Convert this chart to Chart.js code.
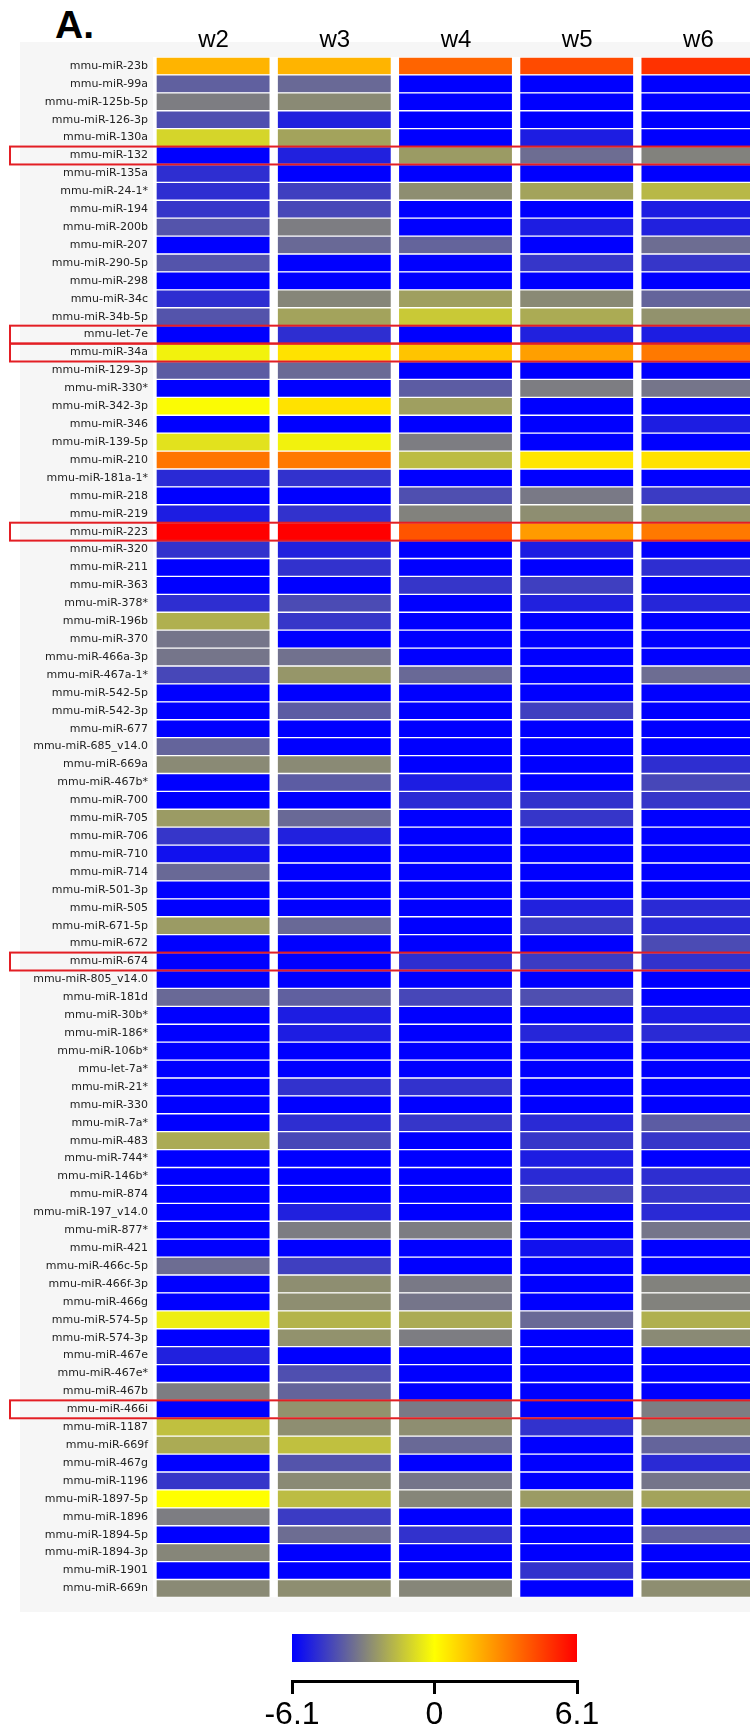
<!DOCTYPE html>
<html>
<head>
<meta charset="utf-8">
<script src="https://cdn.jsdelivr.net/npm/chart.js@4.4.1/dist/chart.umd.min.js"></script>
<style>
  html, body { margin: 0; padding: 0; width: 750px; height: 1729px; overflow: hidden; background: #fff; }
  #panel { position: absolute; left: 20px; top: 42px; width: 730px; height: 1570px; background: #f6f6f6; }
  #tag { position: absolute; left: 55px; top: 5px; font: bold 39px/39px "Liberation Sans", Arial, sans-serif; color: #000; }
  #heat { position: absolute; left: 0; top: 0; }
  #scale { position: absolute; left: 232px; top: 1625px; }
</style>
</head>
<body>
<div id="panel"></div>
<div id="tag">A.</div>
<canvas id="heat" width="759" height="1609"></canvas>
<canvas id="scale" width="405" height="104"></canvas>
<script>
const weeks = ['w2', 'w3', 'w4', 'w5', 'w6'];

const mirs = [
  'mmu-miR-23b', 'mmu-miR-99a', 'mmu-miR-125b-5p', 'mmu-miR-126-3p', 'mmu-miR-130a',
  'mmu-miR-132', 'mmu-miR-135a', 'mmu-miR-24-1*', 'mmu-miR-194', 'mmu-miR-200b',
  'mmu-miR-207', 'mmu-miR-290-5p', 'mmu-miR-298', 'mmu-miR-34c', 'mmu-miR-34b-5p',
  'mmu-let-7e', 'mmu-miR-34a', 'mmu-miR-129-3p', 'mmu-miR-330*', 'mmu-miR-342-3p',
  'mmu-miR-346', 'mmu-miR-139-5p', 'mmu-miR-210', 'mmu-miR-181a-1*', 'mmu-miR-218',
  'mmu-miR-219', 'mmu-miR-223', 'mmu-miR-320', 'mmu-miR-211', 'mmu-miR-363',
  'mmu-miR-378*', 'mmu-miR-196b', 'mmu-miR-370', 'mmu-miR-466a-3p', 'mmu-miR-467a-1*',
  'mmu-miR-542-5p', 'mmu-miR-542-3p', 'mmu-miR-677', 'mmu-miR-685_v14.0', 'mmu-miR-669a',
  'mmu-miR-467b*', 'mmu-miR-700', 'mmu-miR-705', 'mmu-miR-706', 'mmu-miR-710',
  'mmu-miR-714', 'mmu-miR-501-3p', 'mmu-miR-505', 'mmu-miR-671-5p', 'mmu-miR-672',
  'mmu-miR-674', 'mmu-miR-805_v14.0', 'mmu-miR-181d', 'mmu-miR-30b*', 'mmu-miR-186*',
  'mmu-miR-106b*', 'mmu-let-7a*', 'mmu-miR-21*', 'mmu-miR-330', 'mmu-miR-7a*',
  'mmu-miR-483', 'mmu-miR-744*', 'mmu-miR-146b*', 'mmu-miR-874', 'mmu-miR-197_v14.0',
  'mmu-miR-877*', 'mmu-miR-421', 'mmu-miR-466c-5p', 'mmu-miR-466f-3p', 'mmu-miR-466g',
  'mmu-miR-574-5p', 'mmu-miR-574-3p', 'mmu-miR-467e', 'mmu-miR-467e*', 'mmu-miR-467b',
  'mmu-miR-466i', 'mmu-miR-1187', 'mmu-miR-669f', 'mmu-miR-467g', 'mmu-miR-1196',
  'mmu-miR-1897-5p', 'mmu-miR-1896', 'mmu-miR-1894-5p', 'mmu-miR-1894-3p', 'mmu-miR-1901',
  'mmu-miR-669n'
];

// log fold change per week, same order as mirs
const w2 = [
  1.8, -3.8, -3.1, -4.2, -1.0, -6.1, -5.0, -5.0, -4.8, -4.1,
  -6.1, -4.1, -6.1, -5.0, -4.1, -6.1, -0.3, -3.9, -6.1, -0.1,
  -6.1, -0.7, 3.3, -5.1, -6.1, -5.4, 6.1, -4.9, -6.1, -6.1,
  -5.0, -1.9, -3.3, -3.3, -4.4, -6.1, -6.1, -6.1, -3.7, -2.8,
  -6.1, -6.1, -2.4, -4.8, -5.7, -3.6, -6.1, -6.1, -2.4, -6.1,
  -6.1, -6.1, -3.6, -6.1, -6.1, -6.1, -6.1, -6.1, -6.1, -6.1,
  -2.0, -6.1, -6.1, -6.1, -6.1, -6.1, -6.1, -3.5, -6.1, -6.1,
  -0.4, -6.1, -5.3, -6.1, -3.1, -6.1, -1.5, -2.0, -6.1, -4.8,
  0.0, -3.1, -6.1, -2.9, -6.1, -2.8
];
const w3 = [
  1.8, -3.6, -2.8, -5.3, -2.2, -5.3, -6.1, -4.6, -4.4, -3.1,
  -3.6, -6.1, -6.1, -2.9, -2.2, -5.0, 0.7, -3.6, -6.1, 0.7,
  -6.1, -0.3, 3.2, -4.9, -6.1, -4.9, 6.1, -5.3, -4.9, -6.1,
  -4.3, -4.8, -6.1, -3.4, -2.5, -6.1, -3.9, -6.1, -6.1, -2.8,
  -3.9, -6.1, -3.6, -5.3, -6.1, -6.1, -6.1, -6.1, -3.6, -6.1,
  -6.1, -6.1, -3.8, -5.4, -5.4, -6.1, -6.1, -4.9, -6.1, -5.0,
  -4.4, -6.1, -6.1, -6.1, -5.3, -3.1, -6.1, -4.6, -2.7, -2.7,
  -1.8, -2.6, -6.1, -4.2, -3.7, -2.6, -2.7, -1.5, -4.1, -2.8,
  -1.6, -4.7, -3.5, -6.1, -6.1, -2.7
];
const w4 = [
  3.7, -6.1, -6.1, -6.1, -6.1, -2.4, -6.1, -2.7, -6.1, -6.1,
  -3.7, -6.1, -6.1, -2.3, -1.3, -6.1, 1.4, -6.1, -3.9, -2.3,
  -6.1, -3.1, -1.6, -6.1, -4.2, -3.0, 4.1, -6.1, -6.1, -4.8,
  -6.1, -6.1, -6.1, -6.1, -3.6, -6.1, -6.1, -6.1, -6.1, -6.1,
  -5.4, -5.1, -6.1, -6.1, -6.1, -6.1, -6.1, -6.1, -6.1, -6.1,
  -5.0, -6.1, -4.4, -6.1, -6.1, -6.1, -6.1, -4.9, -6.1, -4.8,
  -6.1, -6.1, -6.1, -6.1, -6.1, -3.1, -6.1, -6.1, -3.2, -3.3,
  -2.0, -3.1, -6.1, -6.1, -6.1, -3.2, -2.7, -3.6, -6.1, -3.3,
  -2.9, -6.1, -4.9, -6.1, -6.1, -2.9
];
const w5 = [
  4.3, -6.1, -6.1, -6.1, -5.4, -3.5, -6.1, -2.2, -6.1, -5.4,
  -6.1, -4.8, -6.1, -2.8, -2.0, -5.3, 2.3, -6.1, -3.1, -6.1,
  -6.1, -6.1, 0.6, -6.1, -3.2, -2.7, 2.4, -5.4, -6.1, -4.6,
  -5.3, -6.1, -6.1, -6.1, -6.1, -6.1, -4.6, -6.1, -6.1, -6.1,
  -6.1, -4.9, -4.8, -6.1, -6.1, -6.1, -6.1, -5.3, -4.7, -6.1,
  -4.7, -6.1, -4.2, -6.1, -5.2, -6.1, -6.1, -6.1, -6.1, -5.1,
  -4.8, -5.4, -5.1, -4.4, -6.1, -6.1, -5.7, -6.1, -6.1, -6.1,
  -3.6, -6.1, -6.1, -6.1, -6.1, -6.1, -4.9, -6.1, -6.1, -6.1,
  -2.4, -6.1, -6.1, -6.1, -4.9, -6.1
];
const w6 = [
  4.9, -6.1, -6.1, -6.1, -6.1, -3.0, -6.1, -1.7, -5.4, -5.3,
  -3.5, -4.8, -6.1, -3.7, -2.6, -5.4, 3.2, -6.1, -3.3, -6.1,
  -5.4, -6.1, 0.7, -6.1, -4.7, -2.5, 3.2, -6.1, -5.0, -6.1,
  -5.2, -6.1, -6.1, -6.1, -3.5, -6.1, -6.1, -6.1, -6.1, -5.0,
  -4.4, -4.8, -6.1, -6.1, -6.1, -6.1, -6.1, -5.1, -5.1, -4.3,
  -4.9, -6.1, -6.1, -5.4, -5.1, -6.1, -6.1, -6.1, -6.1, -3.9,
  -4.8, -6.1, -5.0, -4.8, -5.1, -3.3, -6.1, -6.1, -3.0, -3.0,
  -1.9, -2.8, -6.1, -6.1, -6.1, -3.1, -2.7, -3.7, -5.1, -3.3,
  -2.2, -6.1, -3.8, -6.1, -6.1, -2.7
];

const boxed = ['mmu-miR-132', 'mmu-let-7e', 'mmu-miR-34a', 'mmu-miR-223', 'mmu-miR-674', 'mmu-miR-466i'];
const scaleTicks = [-6.1, 0, 6.1];
const LIM = 6.1;

// blue -> (grey) -> yellow -> red, linear in rgb
function heatColor(v) {
  let r, g, b;
  if (v < 0) {
    const t = Math.max(0, (v + LIM) / LIM);
    r = 255 * t; g = 255 * t; b = 255 * (1 - t);
  } else {
    const t = Math.min(1, v / LIM);
    r = 255; g = 255 * (1 - t); b = 0;
  }
  return 'rgb(' + Math.round(r) + ',' + Math.round(g) + ',' + Math.round(b) + ')';
}

const columns = [w2, w3, w4, w5, w6];

const boxPlugin = {
  id: 'boxes',
  afterDatasetsDraw(chart) {
    const ctx = chart.ctx;
    const y = chart.scales.y;
    const half = y.height / mirs.length / 2;
    ctx.save();
    ctx.strokeStyle = '#e31e24';
    ctx.lineWidth = 2;
    boxed.forEach(name => {
      const py = y.getPixelForValue(mirs.indexOf(name));
      ctx.strokeRect(10, py - half, 780, half * 2);
    });
    ctx.restore();
  }
};

new Chart(document.getElementById('heat'), {
  type: 'bar',
  data: {
    labels: mirs,
    datasets: columns.map((vals, i) => ({
      label: weeks[i],
      data: vals.map(() => 1),
      backgroundColor: vals.map(heatColor),
      borderColor: '#ffffff',
      borderWidth: { top: 1, bottom: 1, left: 4, right: 5 },
      borderSkipped: false,
      barPercentage: 1,
      categoryPercentage: 1
    }))
  },
  options: {
    indexAxis: 'y',
    responsive: false,
    animation: false,
    layout: { padding: 0 },
    plugins: { legend: { display: false }, tooltip: { enabled: false } },
    scales: {
      x: { stacked: true, min: 0, max: 5, display: false },
      wk: {
        type: 'category',
        labels: weeks,
        position: 'top',
        offset: true,
        grid: { display: false, drawTicks: false },
        border: { display: false },
        ticks: { padding: 2, color: '#000', font: { family: 'Liberation Sans', size: 24 } },
        afterFit: s => { s.height = 57; }
      },
      y: {
        stacked: true,
        grid: { display: false, drawTicks: false },
        border: { display: false },
        ticks: { autoSkip: false, padding: 5, color: '#222', font: { family: 'DejaVu Sans', size: 11 } },
        afterFit: s => { s.width = 153; }
      }
    }
  },
  plugins: [boxPlugin]
});

const gradientBar = {
  id: 'gradientBar',
  beforeDatasetsDraw(chart) {
    const ctx = chart.ctx;
    const x = chart.scales.x;
    const x0 = x.getPixelForValue(-LIM), x1 = x.getPixelForValue(LIM);
    const grad = ctx.createLinearGradient(x0, 0, x1, 0);
    [-LIM, -LIM / 2, 0, LIM / 2, LIM].forEach(v => grad.addColorStop((v + LIM) / (2 * LIM), heatColor(v)));
    ctx.save();
    ctx.fillStyle = grad;
    ctx.fillRect(x0, chart.chartArea.top, x1 - x0, 28);
    ctx.restore();
  }
};

new Chart(document.getElementById('scale'), {
  type: 'scatter',
  data: { datasets: [] },
  options: {
    responsive: false,
    animation: false,
    layout: { padding: { left: 60, right: 60, top: 9, bottom: 0 } },
    plugins: { legend: { display: false }, tooltip: { enabled: false } },
    scales: {
      x: {
        type: 'linear',
        min: -LIM,
        max: LIM,
        offset: false,
        afterBuildTicks: s => { s.ticks = scaleTicks.map(v => ({ value: v })); },
        grid: { offset: false, drawOnChartArea: false, drawTicks: true, tickLength: 13, color: '#000', lineWidth: 3 },
        border: { display: true, color: '#000', width: 3 },
        ticks: { padding: 2, color: '#000', font: { family: 'Liberation Sans', size: 32 }, callback: v => String(v) },
        afterFit: s => { s.height = 48; }
      },
      y: { display: false }
    }
  },
  plugins: [gradientBar]
});
</script>
</body>
</html>
